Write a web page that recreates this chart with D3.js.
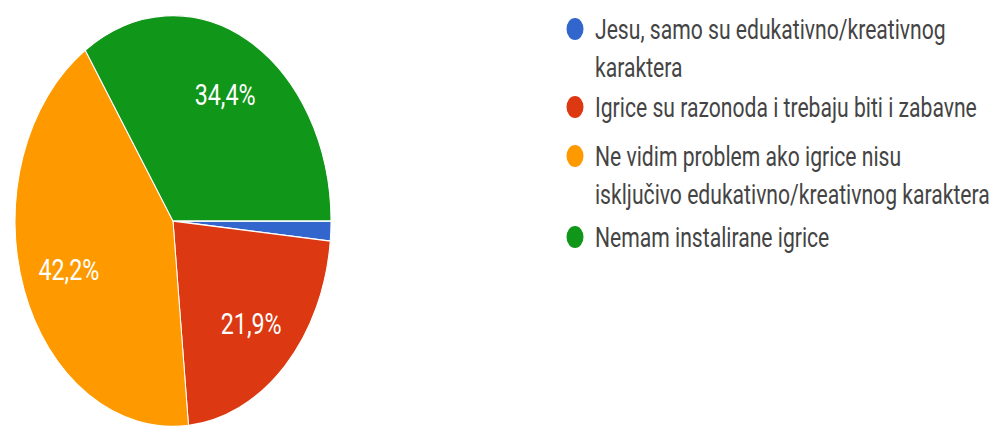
<!DOCTYPE html>
<html>
<head>
<meta charset="utf-8">
<script src="https://cdn.jsdelivr.net/npm/d3@7"></script>
<style>
  html, body { margin: 0; padding: 0; background: #fff; }
  svg { display: block; }
</style>
</head>
<body>
<svg id="chart"></svg>
<script>
// ---- data ----
const categories = [
  "Jesu, samo su edukativno/kreativnog karaktera",
  "Igrice su razonoda i trebaju biti i zabavne",
  "Ne vidim problem ako igrice nisu isključivo edukativno/kreativnog karaktera",
  "Nemam instalirane igrice"
];
const legendLines = [
  ["Jesu, samo su edukativno/kreativnog", "karaktera"],
  ["Igrice su razonoda i trebaju biti i zabavne"],
  ["Ne vidim problem ako igrice nisu", "isključivo edukativno/kreativnog karaktera"],
  ["Nemam instalirane igrice"]
];
const counts = [1, 14, 27, 22];
const colors = ["#3366cc", "#dc3912", "#ff9900", "#109618"];

// ---- layout (reference is stretched vertically) ----
const W = 995, H = 430, SY = 1.3;
const VH = H / SY;
const svg = d3.select("#chart")
  .attr("width", W).attr("height", H)
  .attr("viewBox", `0 0 ${W} ${VH}`)
  .attr("preserveAspectRatio", "none");

const cx = 173, cy = 170, R = 158;
const total = d3.sum(counts);

const pie = d3.pie().sort(null).value(d => d)
  .startAngle(Math.PI / 2).endAngle(Math.PI / 2 + 2 * Math.PI);
const arcs = pie(counts);
const arc = d3.arc().innerRadius(0).outerRadius(R);
const labelArc = d3.arc().innerRadius(R * 0.7).outerRadius(R * 0.7);

const g = svg.append("g").attr("transform", `translate(${cx},${cy})`);
g.selectAll("path.slice").data(arcs).enter().append("path")
  .attr("class", "slice")
  .attr("d", arc)
  .attr("fill", (d, i) => colors[i])
  .attr("stroke", "#fff")
  .attr("stroke-width", 1);

const fmt = v => (Math.round(v * 1000) / 10).toFixed(1).replace(".", ",") + "%";

// font sizes fitted to reference widths
const FONT = "Roboto, Arial, sans-serif";
function measure(txt, size) {
  const t = svg.append("text").attr("font-family", FONT).attr("font-size", size).text(txt);
  const w = t.node().getComputedTextLength();
  t.remove();
  return w;
}
const legendSize = 100 * 395 / measure("isključivo edukativno/kreativnog karaktera", 100);
const labelSize = 100 * 61 / measure("34,4%", 100);

g.selectAll("text.lbl").data(arcs.filter(d => d.value / total > 0.05)).enter().append("text")
  .attr("class", "lbl")
  .attr("x", d => labelArc.centroid(d)[0])
  .attr("y", d => labelArc.centroid(d)[1])
  .attr("dy", "0.36em")
  .attr("text-anchor", "middle")
  .attr("font-family", FONT)
  .attr("font-size", labelSize)
  .attr("fill", "#ffffff")
  .text(d => fmt(d.value / total));

// legend
const lineY = [[29, 67], [107], [156, 194], [237]];
const leg = svg.append("g");
legendLines.forEach((lines, i) => {
  leg.append("circle")
    .attr("cx", 575).attr("cy", lineY[i][0] / SY)
    .attr("r", 8.5)
    .attr("fill", colors[i]);
  lines.forEach((ln, j) => {
    leg.append("text")
      .attr("x", 595).attr("y", lineY[i][j] / SY)
      .attr("dy", "0.36em")
      .attr("font-family", FONT)
      .attr("font-size", legendSize)
      .attr("fill", "#444444")
      .text(ln);
  });
});
</script>
</body>
</html>
